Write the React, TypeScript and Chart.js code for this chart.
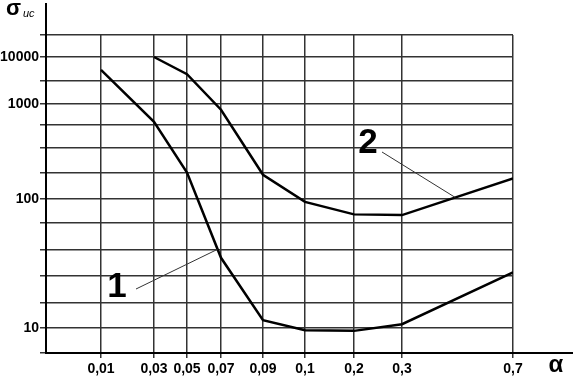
import React, { useEffect, useRef } from "react";
import { Chart, registerables } from "chart.js";

Chart.register(...registerables);

// Categories (α values) and their hand-drawn positions along the x axis
const xLabels = ["0,01", "0,03", "0,05", "0,07", "0,09", "0,1", "0,2", "0,3", "0,7"];
const xSlots = [55, 108, 141, 175, 217, 259, 308, 356, 467];

// Series values (σ_ис)
const curve1 = [5300, 650, 190, 35, 11.5, 9.6, 9.5, 10.7, 27];
const curve2 = [null, 10000, 4300, 870, 180, 95, 76, 75, 165];

// Non-uniform (hand-drawn) y axis: labelled values and their axis positions
const yTickValues = [10, 100, 1000, 10000];
const yTickLabels = ["10", "100", "1000", "10000"];
const yTickPos = [25, 154, 249, 296];
const yGridPos = [0, 25, 50, 77, 103, 130, 154, 180, 205, 228, 249, 272, 296, 318];

const FONT = '"Liberation Sans", Arial, Helvetica, sans-serif';

function toPos(v: number): number {
  const lv = Math.log10(v);
  const la = yTickValues.map((a) => Math.log10(a));
  let i = 0;
  if (lv <= la[0]) i = 0;
  else if (lv >= la[la.length - 1]) i = la.length - 2;
  else {
    while (i < la.length - 2 && lv > la[i + 1]) i++;
  }
  const t = (lv - la[i]) / (la[i + 1] - la[i]);
  return yTickPos[i] + t * (yTickPos[i + 1] - yTickPos[i]);
}

function toPoints(values: (number | null)[]) {
  const pts: { x: number; y: number }[] = [];
  values.forEach((v, i) => {
    if (v !== null) pts.push({ x: xSlots[i], y: toPos(v) });
  });
  return pts;
}

export default function App() {
  const ref = useRef<HTMLCanvasElement | null>(null);

  useEffect(() => {
    if (!ref.current) return;
    const decor = {
      id: "decor",
      afterDraw(chart: any) {
        const { ctx, chartArea } = chart;
        const xs = chart.scales.x;
        const ys = chart.scales.y;
        ctx.save();
        // axis extensions
        ctx.strokeStyle = "#000";
        ctx.lineWidth = 2;
        ctx.beginPath();
        ctx.moveTo(chartArea.left, chartArea.bottom);
        ctx.lineTo(chartArea.left, chartArea.top - 32);
        ctx.moveTo(chartArea.left, chartArea.bottom);
        ctx.lineTo(chartArea.right + 60, chartArea.bottom);
        ctx.stroke();

        // leader lines to curves
        const m1 = chart.getDatasetMeta(0).data;
        const m2 = chart.getDatasetMeta(1).data;
        const lerp = (a: any, b: any, t: number) => ({ x: a.x + (b.x - a.x) * t, y: a.y + (b.y - a.y) * t });
        const e1 = lerp(m1[2], m1[3], 0.9);
        const e2 = lerp(m2[6], m2[7], 0.48);
        ctx.strokeStyle = "#333";
        ctx.lineWidth = 1;
        ctx.beginPath();
        ctx.moveTo(xs.getPixelForValue(90), ys.getPixelForValue(64));
        ctx.lineTo(e1.x, e1.y);
        ctx.moveTo(xs.getPixelForValue(336), ys.getPixelForValue(201));
        ctx.lineTo(e2.x, e2.y);
        ctx.stroke();

        // curve numbers
        ctx.fillStyle = "#000";
        ctx.font = `bold 35px ${FONT}`;
        ctx.textAlign = "center";
        ctx.textBaseline = "middle";
        ctx.fillText("1", xs.getPixelForValue(71), ys.getPixelForValue(66));
        ctx.fillText("2", xs.getPixelForValue(322), ys.getPixelForValue(210));

        // axis names
        ctx.font = `bold 24px ${FONT}`;
        ctx.fillText("α", chartArea.right + 43, chartArea.bottom + 12);
        ctx.textAlign = "left";
        ctx.textBaseline = "alphabetic";
        ctx.font = `bold 22px ${FONT}`;
        ctx.fillText("σ", 6, 15);
        ctx.font = `italic 11px ${FONT}`;
        ctx.fillText("ис", 23, 17);
        ctx.restore();
      },
    };

    const chart = new Chart(ref.current, {
      type: "line",
      data: {
        datasets: [
          {
            label: "1",
            data: toPoints(curve1),
            borderColor: "#000",
            borderWidth: 2.5,
            pointRadius: 0,
            tension: 0,
            fill: false,
          },
          {
            label: "2",
            data: toPoints(curve2),
            borderColor: "#000",
            borderWidth: 2.5,
            pointRadius: 0,
            tension: 0,
            fill: false,
          },
        ],
      },
      options: {
        responsive: false,
        animation: false,
        events: [],
        layout: { padding: { top: 35, right: 68, left: 0, bottom: 0 } },
        plugins: { legend: { display: false }, tooltip: { enabled: false } },
        scales: {
          x: {
            type: "linear",
            min: 0,
            max: xSlots[xSlots.length - 1],
            afterFit: (s: any) => {
              s.height = 27;
            },
            afterBuildTicks: (s: any) => {
              s.ticks = xSlots.map((v) => ({ value: v }));
            },
            grid: { color: "#333", lineWidth: 1.5, tickLength: 5, tickColor: "#333" },
            border: { display: true, color: "#000", width: 2 },
            ticks: {
              autoSkip: false,
              maxRotation: 0,
              padding: 3,
              color: "#000",
              font: { family: FONT, size: 14, weight: "bold" },
              callback: (v: any) => {
                const i = xSlots.indexOf(Number(v));
                return i >= 0 ? xLabels[i] : "";
              },
            },
          },
          y: {
            type: "linear",
            min: 0,
            max: yGridPos[yGridPos.length - 1],
            afterFit: (s: any) => {
              s.width = 46;
            },
            afterBuildTicks: (s: any) => {
              s.ticks = yGridPos.map((v) => ({ value: v }));
            },
            grid: { color: "#333", lineWidth: 1.5, tickLength: 6, tickColor: "#333" },
            border: { display: true, color: "#000", width: 2 },
            ticks: {
              autoSkip: false,
              padding: 1,
              color: "#000",
              font: { family: FONT, size: 14, weight: "bold" },
              callback: (v: any) => {
                const i = yTickPos.indexOf(Number(v));
                return i >= 0 ? yTickLabels[i] : "";
              },
            },
          },
        },
      },
      plugins: [decor],
    } as any);
    return () => chart.destroy();
  }, []);

  return (
    <div style={{ position: "absolute", left: 0, top: 0, width: 581, height: 380, background: "#fff" }}>
      <canvas ref={ref} width={581} height={380} />
    </div>
  );
}
